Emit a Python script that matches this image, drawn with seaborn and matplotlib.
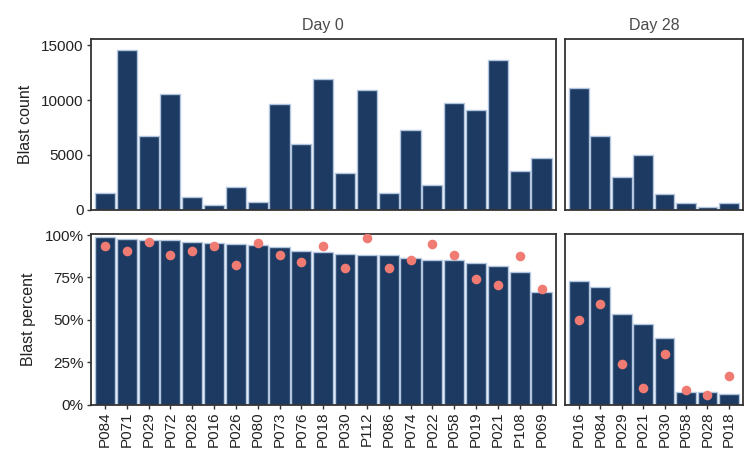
import matplotlib
matplotlib.use("Agg")
import matplotlib.pyplot as plt
import matplotlib.ticker as mticker
import numpy as np
import pandas as pd
import seaborn as sns

# Day 0 patients (ordered by blast percent)
day0_patients = ["P084", "P071", "P029", "P072", "P028", "P016", "P026", "P080",
                 "P073", "P076", "P018", "P030", "P112", "P086", "P074", "P022",
                 "P058", "P019", "P021", "P108", "P069"]
day0_count = [1500, 14550, 6750, 10550, 1150, 400, 2100, 700,
              9650, 6000, 11900, 3350, 10900, 1500, 7250, 2300,
              9700, 9100, 13700, 3550, 4750]
day0_percent = [98.6, 97.6, 97.0, 96.9, 95.9, 95.5, 94.7, 94.3,
                92.7, 90.7, 90.0, 88.6, 88.4, 88.0, 86.6, 85.4,
                85.2, 83.6, 81.9, 78.3, 66.7]
day0_ref = [93.5, 90.4, 95.9, 88.4, 90.4, 93.5, 82.3, 95.5,
            88.4, 84.2, 93.5, 80.3, 98.4, 80.3, 85.4, 94.5,
            88.4, 74.2, 70.3, 87.6, 68.3]

# Day 28 patients
day28_patients = ["P016", "P084", "P029", "P021", "P030", "P058", "P028", "P018"]
day28_count = [11150, 6700, 3000, 5000, 1450, 650, 300, 600]
day28_percent = [73.0, 69.1, 53.2, 47.3, 39.6, 7.7, 7.7, 6.5]
day28_ref = [50.2, 59.2, 24.0, 9.8, 30.1, 8.9, 5.9, 17.1]

BAR = "#1d3a62"
EDGE = "#b3c6e0"
DOT = "#f07b72"
FRAME = "#333333"
TXT = "#4a4a4a"

sns.set_theme(style="white")
plt.rcParams["font.family"] = ["Liberation Sans", "DejaVu Sans"]

W, H = 747, 461
fig = plt.figure(figsize=(W / 100, H / 100), dpi=100)


def ax_at(x0, y0, x1, y1):
    return fig.add_axes([x0 / W, 1 - y1 / H, (x1 - x0) / W, (y1 - y0) / H])


ax_c0 = ax_at(90.7, 39.3, 555.7, 209.8)
ax_c28 = ax_at(565.0, 39.3, 742.7, 209.8)
ax_p0 = ax_at(90.7, 234.0, 555.7, 404.8)
ax_p28 = ax_at(565.0, 234.0, 742.7, 404.8)

d0 = pd.DataFrame({"patient": day0_patients, "count": day0_count,
                   "percent": day0_percent, "ref": day0_ref})
d28 = pd.DataFrame({"patient": day28_patients, "count": day28_count,
                    "percent": day28_percent, "ref": day28_ref})

bar_kw = dict(color=BAR, edgecolor=EDGE, linewidth=1.0, width=0.92, saturation=1)

for ax, df, col in [(ax_c0, d0, "count"), (ax_c28, d28, "count"),
                    (ax_p0, d0, "percent"), (ax_p28, d28, "percent")]:
    sns.barplot(data=df, x="patient", y=col, ax=ax, **bar_kw)
    n = len(df)
    ax.set_xlim(-0.65, n - 0.35)
    for s in ax.spines.values():
        s.set_visible(True)
        s.set_color(FRAME)
        s.set_linewidth(1.3)
    ax.set_xlabel("")
    ax.set_ylabel("")

for ax, df in [(ax_p0, d0), (ax_p28, d28)]:
    sns.scatterplot(data=df, x="patient", y="ref", ax=ax, color=DOT,
                    s=48, linewidth=0, zorder=5, legend=False)
    ax.set_ylim(0, 100.6)
    ax.set_xlabel("")
    ax.set_ylabel("")
    ax.tick_params(axis="x", rotation=90, labelsize=11, labelcolor="#222222",
                   length=3, width=1, color=FRAME, pad=2, bottom=True)
    for lab in ax.get_xticklabels():
        lab.set_verticalalignment("top")

for ax in (ax_c0, ax_c28):
    ax.set_ylim(0, 15550)
    ax.set_xticks([])

ax_c0.set_yticks([0, 5000, 10000, 15000])
ax_p0.set_yticks([0, 25, 50, 75, 100])
ax_p0.yaxis.set_major_formatter(mticker.FuncFormatter(lambda v, _: f"{v:.0f}%"))
for ax in (ax_c0, ax_p0):
    ax.tick_params(axis="y", left=True, length=3, width=1, color=FRAME,
                   labelsize=11, labelcolor="#222222", pad=2)
for ax in (ax_c28, ax_p28):
    ax.set_yticks([])
    ax.set_ylabel("")

ax_c0.set_ylabel("Blast count", fontsize=11.5, color="#222222", labelpad=6)
ax_p0.set_ylabel("Blast percent", fontsize=11.5, color="#222222", labelpad=6)

ax_c0.set_title("Day 0", fontsize=11.5, color=TXT, pad=7)
ax_c28.set_title("Day 28", fontsize=11.5, color=TXT, pad=7)

fig.savefig("out.png", dpi=100, facecolor="white")
